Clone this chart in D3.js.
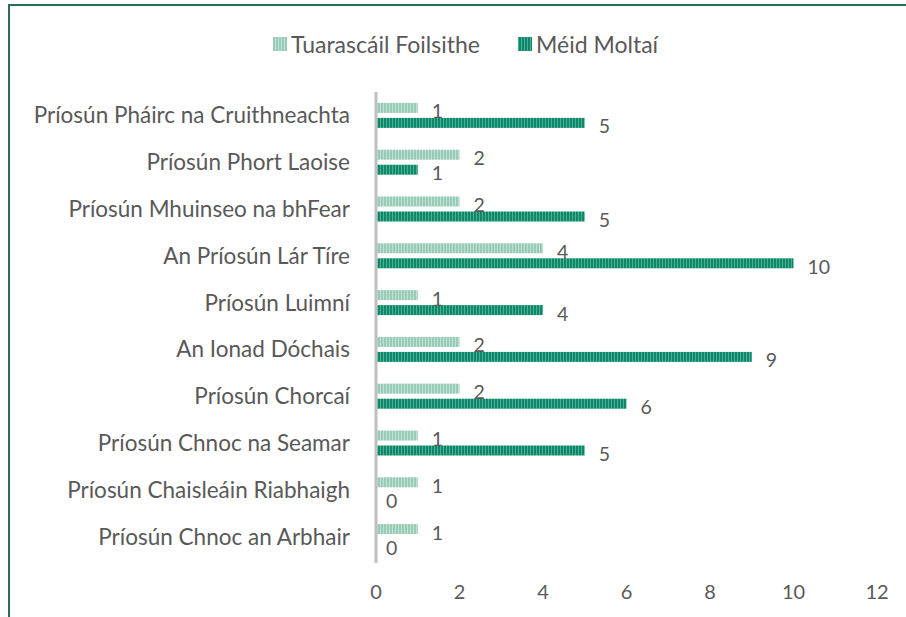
<!DOCTYPE html>
<html>
<head>
<meta charset="utf-8">
<script src="https://cdn.jsdelivr.net/npm/d3@7"></script>
<style>
  body { margin: 0; background: #fff; }
  text { font-family: Lato, "Open Sans", sans-serif; fill: #595959; }
</style>
</head>
<body>
<div class="chart"></div>
<script>
const categories = [
    "Príosún Pháirc na Cruithneachta",
    "Príosún Phort Laoise",
    "Príosún Mhuinseo na bhFear",
    "An Príosún Lár Tíre",
    "Príosún Luimní",
    "An Ionad Dóchais",
    "Príosún Chorcaí",
    "Príosún Chnoc na Seamar",
    "Príosún Chaisleáin Riabhaigh",
    "Príosún Chnoc an Arbhair"
];
const tuarascail = [1, 2, 2, 4, 1, 2, 2, 1, 1, 1];
const moltai = [5, 1, 5, 10, 4, 9, 6, 5, 0, 0];
const series_names = ["Tuarascáil Foilsithe", "Méid Moltaí"];
const x_ticks = [0, 2, 4, 6, 8, 10, 12];

const width = 906;
const height = 617;

const svg = d3.select(".chart")
    .append("svg")
    .attr("width", width)
    .attr("height", height);

// striped fills
const defs = svg.append("defs");
function stripes(id, base, line){
    let p = defs.append("pattern")
        .attr("id", id)
        .attr("patternUnits", "userSpaceOnUse")
        .attr("width", 3)
        .attr("height", 10);
    p.append("rect").attr("width", 3).attr("height", 10).attr("fill", base);
    p.append("rect").attr("x", 2).attr("width", 1).attr("height", 10).attr("fill", line);
}
stripes("light", "#98cbb8", "#c0e0d4");
stripes("dark", "#0e8868", "#4cb094");

// border
svg.append("line").attr("x1", 9).attr("x2", width).attr("y1", 5).attr("y2", 5)
    .attr("stroke", "#2d6b58").attr("stroke-width", 2);
svg.append("line").attr("x1", 9).attr("x2", 9).attr("y1", 4).attr("y2", height)
    .attr("stroke", "#2d6b58").attr("stroke-width", 2);

const x = d3.scaleLinear().domain([0, 12]).range([376, 877]);
const y = d3.scaleBand().domain(categories).range([92, 560]);

const data = categories.map((c, i) => ({cat: c, a: tuarascail[i], b: moltai[i]}));

// x tick labels
svg.selectAll(".tick-label")
    .data(x_ticks)
    .enter()
    .append("text")
    .attr("class", "tick-label")
    .attr("x", d => x(d))
    .attr("y", 599)
    .attr("text-anchor", "middle")
    .attr("font-size", "20px")
    .text(d => d);

// category labels
svg.selectAll(".cat-label")
    .data(categories)
    .enter()
    .append("text")
    .attr("class", "cat-label")
    .attr("x", 350)
    .attr("y", d => y(d) + y.bandwidth() / 2 + 8)
    .attr("text-anchor", "end")
    .attr("font-size", "22.5px")
    .text(d => d);

const mid = d => y(d.cat) + y.bandwidth() / 2;

svg.selectAll(".bar-a")
    .data(data)
    .enter()
    .append("rect")
    .attr("x", x(0))
    .attr("y", d => mid(d) - 12.5)
    .attr("width", d => x(d.a) - x(0))
    .attr("height", 10)
    .attr("fill", "url(#light)");

svg.selectAll(".bar-b")
    .data(data)
    .enter()
    .append("rect")
    .attr("x", x(0))
    .attr("y", d => mid(d) + 2.5)
    .attr("width", d => x(d.b) - x(0))
    .attr("height", 10)
    .attr("fill", "url(#dark)");

// value labels
svg.selectAll(".val-a")
    .data(data)
    .enter()
    .append("text")
    .attr("x", d => x(d.a) + 14)
    .attr("y", d => mid(d) + 3)
    .attr("font-size", "19.5px")
    .text(d => d.a);

svg.selectAll(".val-b")
    .data(data)
    .enter()
    .append("text")
    .attr("x", d => d.b == 0 ? x(d.b) + 10 : x(d.b) + 14)
    .attr("y", d => mid(d) + 18)
    .attr("font-size", "19.5px")
    .text(d => d.b);

// vertical axis line
svg.append("line")
    .attr("x1", x(0)).attr("x2", x(0))
    .attr("y1", 92).attr("y2", 563)
    .attr("stroke", "#bfbfbf").attr("stroke-width", 3);

// legend
const legend = svg.append("g");
const legend_x = [273, 518];
series_names.forEach((name, i) => {
    legend.append("rect")
        .attr("x", legend_x[i])
        .attr("y", 37)
        .attr("width", 14)
        .attr("height", 14)
        .attr("fill", i == 0 ? "url(#light)" : "url(#dark)");
    legend.append("text")
        .attr("x", legend_x[i] + 18)
        .attr("y", 53)
        .attr("font-size", "23px")
        .text(name);
});
</script>
</body>
</html>
